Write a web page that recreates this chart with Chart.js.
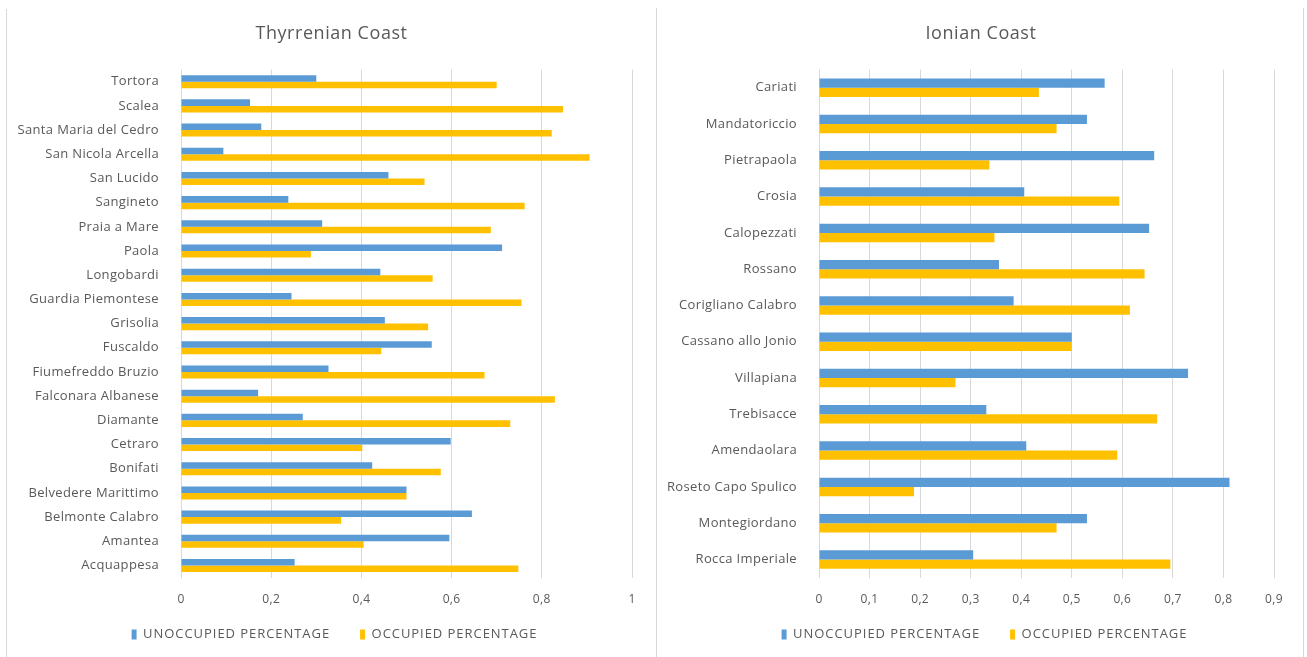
<!DOCTYPE html>
<html>
<head>
<meta charset="utf-8">
<script src="https://cdn.jsdelivr.net/npm/chart.js@4.4.1/dist/chart.umd.min.js"></script>
<style>
  html, body { margin: 0; padding: 0; background: #ffffff; }
  body { width: 1307px; height: 657px; position: relative; overflow: hidden; }
  .panel { position: absolute; top: 0; height: 657px; }
  .rule { position: absolute; width: 1px; background: #d9d9d9; }
</style>
</head>
<body>
<div class="rule" style="left:6px; top:9px; height:648px;"></div>
<div class="rule" style="left:656px; top:8px; height:649px;"></div>
<div class="rule" style="left:1303px; top:8px; height:649px;"></div>
<div class="panel" style="left:8px; width:648px;"><canvas id="thyrrenian"></canvas></div>
<div class="panel" style="left:657px; width:646px;"><canvas id="ionian"></canvas></div>
<script>
// Thyrrenian coast municipalities, listed top to bottom
const thyrrenianTowns = ['Tortora', 'Scalea', 'Santa Maria del Cedro', 'San Nicola Arcella', 'San Lucido',
  'Sangineto', 'Praia a Mare', 'Paola', 'Longobardi', 'Guardia Piemontese', 'Grisolia', 'Fuscaldo',
  'Fiumefreddo Bruzio', 'Falconara Albanese', 'Diamante', 'Cetraro', 'Bonifati', 'Belvedere Marittimo',
  'Belmonte Calabro', 'Amantea', 'Acquappesa'];
const thyrrenianUnoccupied = [0.30, 0.153, 0.178, 0.094, 0.46, 0.238, 0.313, 0.712, 0.442, 0.245, 0.452,
  0.556, 0.327, 0.171, 0.27, 0.598, 0.424, 0.50, 0.645, 0.595, 0.252];
const thyrrenianOccupied = [0.70, 0.847, 0.822, 0.906, 0.54, 0.762, 0.687, 0.288, 0.558, 0.755, 0.548,
  0.444, 0.673, 0.829, 0.73, 0.402, 0.576, 0.50, 0.355, 0.405, 0.748];
const thyrrenianTicks = ['0', '0,2', '0,4', '0,6', '0,8', '1'];

// Ionian coast municipalities, listed top to bottom
const ionianTowns = ['Cariati', 'Mandatoriccio', 'Pietrapaola', 'Crosia', 'Calopezzati', 'Rossano',
  'Corigliano Calabro', 'Cassano allo Jonio', 'Villapiana', 'Trebisacce', 'Amendaolara',
  'Roseto Capo Spulico', 'Montegiordano', 'Rocca Imperiale'];
const ionianUnoccupied = [0.565, 0.53, 0.663, 0.406, 0.653, 0.356, 0.385, 0.50, 0.73, 0.331, 0.41, 0.812, 0.53, 0.305];
const ionianOccupied = [0.435, 0.47, 0.337, 0.594, 0.347, 0.644, 0.615, 0.50, 0.27, 0.669, 0.59, 0.188, 0.47, 0.695];
const ionianTicks = ['0', '0,1', '0,2', '0,3', '0,4', '0,5', '0,6', '0,7', '0,8', '0,9'];

const seriesNames = ['UNOCCUPIED PERCENTAGE', 'OCCUPIED PERCENTAGE'];

const BLUE = '#5B9BD5';
const GOLD = '#FFC000';
const TEXT = '#595959';
const GRID = '#d9d9d9';
const FONT = "'Open Sans', 'Liberation Sans', sans-serif";

// Slightly tracked lettering for all chart text; the caps legend is tracked wider,
// and the title / legend blocks are nudged so they sit centred over each panel.
function textStyle(cfg) {
  const withSpacing = (fn, spacing, dx, dy) => function (...args) {
    const c = this.ctx;
    const prev = c.letterSpacing;
    c.letterSpacing = spacing;
    c.save();
    c.translate(dx, dy);
    const out = fn.apply(this, args);
    c.restore();
    c.letterSpacing = prev;
    return out;
  };
  return {
    id: 'textStyle',
    afterInit(chart) {
      const lg = chart.legend;
      if (lg) {
        lg.fit = withSpacing(lg.fit, cfg.legendSpacing, 0, 0);
        lg.draw = withSpacing(lg.draw, cfg.legendSpacing, cfg.legendDx, cfg.legendDy);
      }
      const tb = chart.titleBlock;
      if (tb) {
        tb.draw = withSpacing(tb.draw, cfg.titleSpacing, cfg.titleDx, 0);
      }
    },
    beforeUpdate(chart) { chart.ctx.letterSpacing = cfg.spacing; },
    beforeDraw(chart) { chart.ctx.letterSpacing = cfg.spacing; }
  };
}

function coastChart(id, opts) {
  return new Chart(document.getElementById(id), {
    type: 'bar',
    data: {
      labels: opts.towns,
      datasets: [
        { label: seriesNames[0], data: opts.unoccupied, backgroundColor: BLUE,
          categoryPercentage: opts.catPct, barPercentage: 1.0 },
        { label: seriesNames[1], data: opts.occupied, backgroundColor: GOLD,
          categoryPercentage: opts.catPct, barPercentage: 1.0 }
      ]
    },
    options: {
      indexAxis: 'y',
      responsive: true,
      maintainAspectRatio: false,
      animation: false,
      layout: { padding: { left: 0, right: opts.padRight, top: 0, bottom: -18 } },
      plugins: {
        title: {
          display: true,
          text: opts.title,
          color: TEXT,
          font: { family: FONT, size: 18, weight: 'normal' },
          padding: { top: 23, bottom: 25 }
        },
        legend: {
          position: 'bottom',
          labels: {
            color: TEXT,
            font: { family: FONT, size: 13 },
            boxWidth: 5,
            boxHeight: 10,
            padding: 30
          }
        },
        tooltip: { enabled: false }
      },
      scales: {
        x: {
          min: 0,
          max: opts.max,
          ticks: {
            stepSize: opts.step,
            color: TEXT,
            font: { family: FONT, size: 12 },
            padding: 15,
            callback: (v, i) => opts.ticks[i]
          },
          grid: { color: GRID, drawTicks: false },
          border: { display: false }
        },
        y: {
          ticks: {
            color: TEXT,
            font: { family: FONT, size: 13 },
            padding: 14,
            autoSkip: false
          },
          grid: { display: false },
          border: { display: false },
          afterFit(scale) { scale.width = opts.axisWidth; }
        }
      }
    },
    plugins: [textStyle({
      spacing: '0.35px',
      legendSpacing: '0.95px',
      titleSpacing: '0.55px',
      legendDx: opts.legendDx,
      legendDy: -24,
      titleDx: opts.titleDx
    })]
  });
}

coastChart('thyrrenian', {
  title: 'Thyrrenian Coast',
  towns: thyrrenianTowns,
  unoccupied: thyrrenianUnoccupied,
  occupied: thyrrenianOccupied,
  ticks: thyrrenianTicks,
  max: 1, step: 0.2,
  catPct: 0.54,
  padRight: 24, axisWidth: 173,
  legendDx: 14.5, titleDx: 11.5
});

coastChart('ionian', {
  title: 'Ionian Coast',
  towns: ionianTowns,
  unoccupied: ionianUnoccupied,
  occupied: ionianOccupied,
  ticks: ionianTicks,
  max: 0.9, step: 0.1,
  catPct: 0.51,
  padRight: 29, axisWidth: 162,
  legendDx: 19, titleDx: 15.5
});
</script>
</body>
</html>
